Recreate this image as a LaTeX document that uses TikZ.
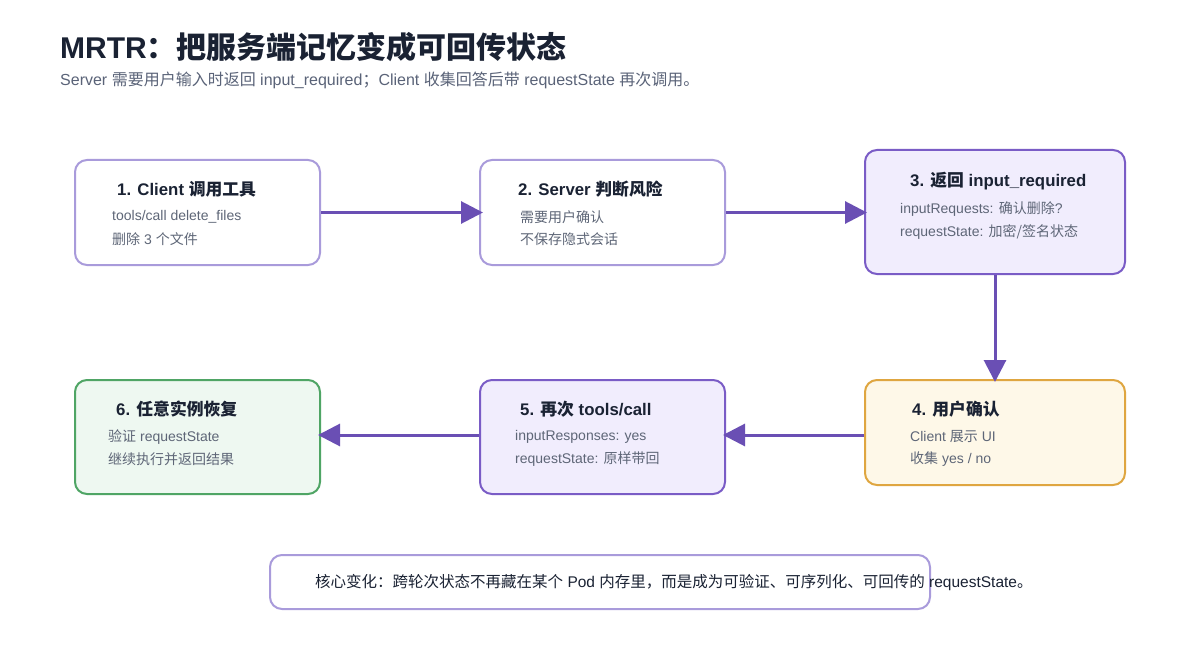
\documentclass[tikz,border=0pt]{standalone}
\usepackage{fontspec}
\setmainfont{Liberation Sans}
\newfontfamily\cjk{Noto Sans CJK SC}
\usetikzlibrary{arrows.meta}
\newcommand\zh[1]{{\cjk #1}}
\definecolor{titlec}{HTML}{1A2233}
\definecolor{subc}{HTML}{5A6378}
\definecolor{bodyc}{HTML}{5E6677}
\definecolor{lav}{HTML}{A99BDB}
\definecolor{purp}{HTML}{7A5CC6}
\definecolor{purpfill}{HTML}{F1EDFD}
\definecolor{gold}{HTML}{DFA640}
\definecolor{goldfill}{HTML}{FEF8E8}
\definecolor{green}{HTML}{4FA565}
\definecolor{greenfill}{HTML}{EEF8F1}
\definecolor{arrc}{HTML}{6A4FB4}
\tikzset{
  box/.style={draw, line width=2pt, rounded corners=12pt, inner sep=0pt},
  plainbox/.style={box, draw=lav, fill=white},
  purpbox/.style={box, draw=purp, fill=purpfill},
  goldbox/.style={box, draw=gold, fill=goldfill},
  greenbox/.style={box, draw=green, fill=greenfill},
  ttl/.style={anchor=west, inner sep=0pt, text=titlec, font=\fontsize{16.8}{20}\selectfont\bfseries},
  bdy/.style={anchor=west, inner sep=0pt, text=bodyc, font=\fontsize{14}{17}\selectfont},
  arr/.style={draw=arrc, line width=3pt, -{Triangle[length=22pt,width=22pt]}}
}
\begin{document}
\begin{tikzpicture}[x=1pt,y=-1pt]
\useasboundingbox[fill=white] (0,0) rectangle (1200,650);
% title
\node[anchor=west, inner sep=0pt, text=titlec, font=\fontsize{30}{36}\selectfont\bfseries] (title) at (60,47) {MRTR\zh{：把服务端记忆变成可回传状态}};
\node[anchor=west, inner sep=0pt, text=subc, font=\fontsize{16}{19}\selectfont] (sub) at (60,80) {Server \zh{需要用户输入时返回} input\_required\zh{；}Client \zh{收集回答后带} requestState \zh{再次调用。}};
% boxes
\node[plainbox, minimum width=245pt, minimum height=105pt] (b1) at (197.5,212.5) {};
\node[plainbox, minimum width=245pt, minimum height=105pt] (b2) at (602.5,212.5) {};
\node[purpbox, minimum width=260pt, minimum height=124pt] (b3) at (995,212) {};
\node[goldbox, minimum width=260pt, minimum height=105pt] (b4) at (995,432.5) {};
\node[purpbox, minimum width=245pt, minimum height=114pt] (b5) at (602.5,437) {};
\node[greenbox, minimum width=245pt, minimum height=114pt] (b6) at (197.5,437) {};
\node[plainbox, minimum width=660pt, minimum height=54pt] (note) at (600,582) {};
% box texts
\node[ttl] (t1) at (117,189) {1. Client \zh{调用工具}};
\node[bdy] (t1a) at (112,217) {tools/call delete\_files};
\node[bdy] (t1b) at (112,239) {\zh{删除} 3 \zh{个文件}};
\node[ttl] (t2) at (518,189) {2. Server \zh{判断风险}};
\node[bdy] (t2a) at (520,217) {\zh{需要用户确认}};
\node[bdy] (t2b) at (520,239) {\zh{不保存隐式会话}};
\node[ttl] (t3) at (910,181) {3. \zh{返回} input\_required};
\node[bdy] (t3a) at (900,209) {inputRequests: \zh{确认删除}?};
\node[bdy] (t3b) at (900,232) {requestState: \zh{加密/签名状态}};
\node[ttl] (t4) at (912,409) {4. \zh{用户确认}};
\node[bdy] (t4a) at (910,437) {Client \zh{展示} UI};
\node[bdy] (t4b) at (910,459) {\zh{收集} yes / no};
\node[ttl] (t5) at (520,409) {5. \zh{再次} tools/call};
\node[bdy] (t5a) at (515,437) {inputResponses: yes};
\node[bdy] (t5b) at (515,459) {requestState: \zh{原样带回}};
\node[ttl] (t6) at (116,409) {6. \zh{任意实例恢复}};
\node[bdy] (t6a) at (108,437) {\zh{验证} requestState};
\node[bdy] (t6b) at (108,459) {\zh{继续执行并返回结果}};
\node[anchor=west, inner sep=0pt, text=titlec, font=\fontsize{15.5}{18}\selectfont] (nt) at (315,583) {\zh{核心变化：跨轮次状态不再藏在某个} Pod \zh{内存里，而是成为可验证、可序列化、可回传的} requestState\zh{。}};
% arrows
\coordinate (row2) at (0,435);
\draw[arr, shorten >=-4pt] (b1.east) -- (b2.west);
\draw[arr, shorten >=-3pt] (b2.east) -- (b2.east -| b3.west);
\draw[arr, shorten >=-3pt] (b3.south) -- (b4.north);
\draw[arr, shorten >=-3pt] (b4.west |- row2) -- (b5.east |- row2);
\draw[arr, shorten >=-3pt] (b5.west |- row2) -- (b6.east |- row2);
\end{tikzpicture}
\end{document}
